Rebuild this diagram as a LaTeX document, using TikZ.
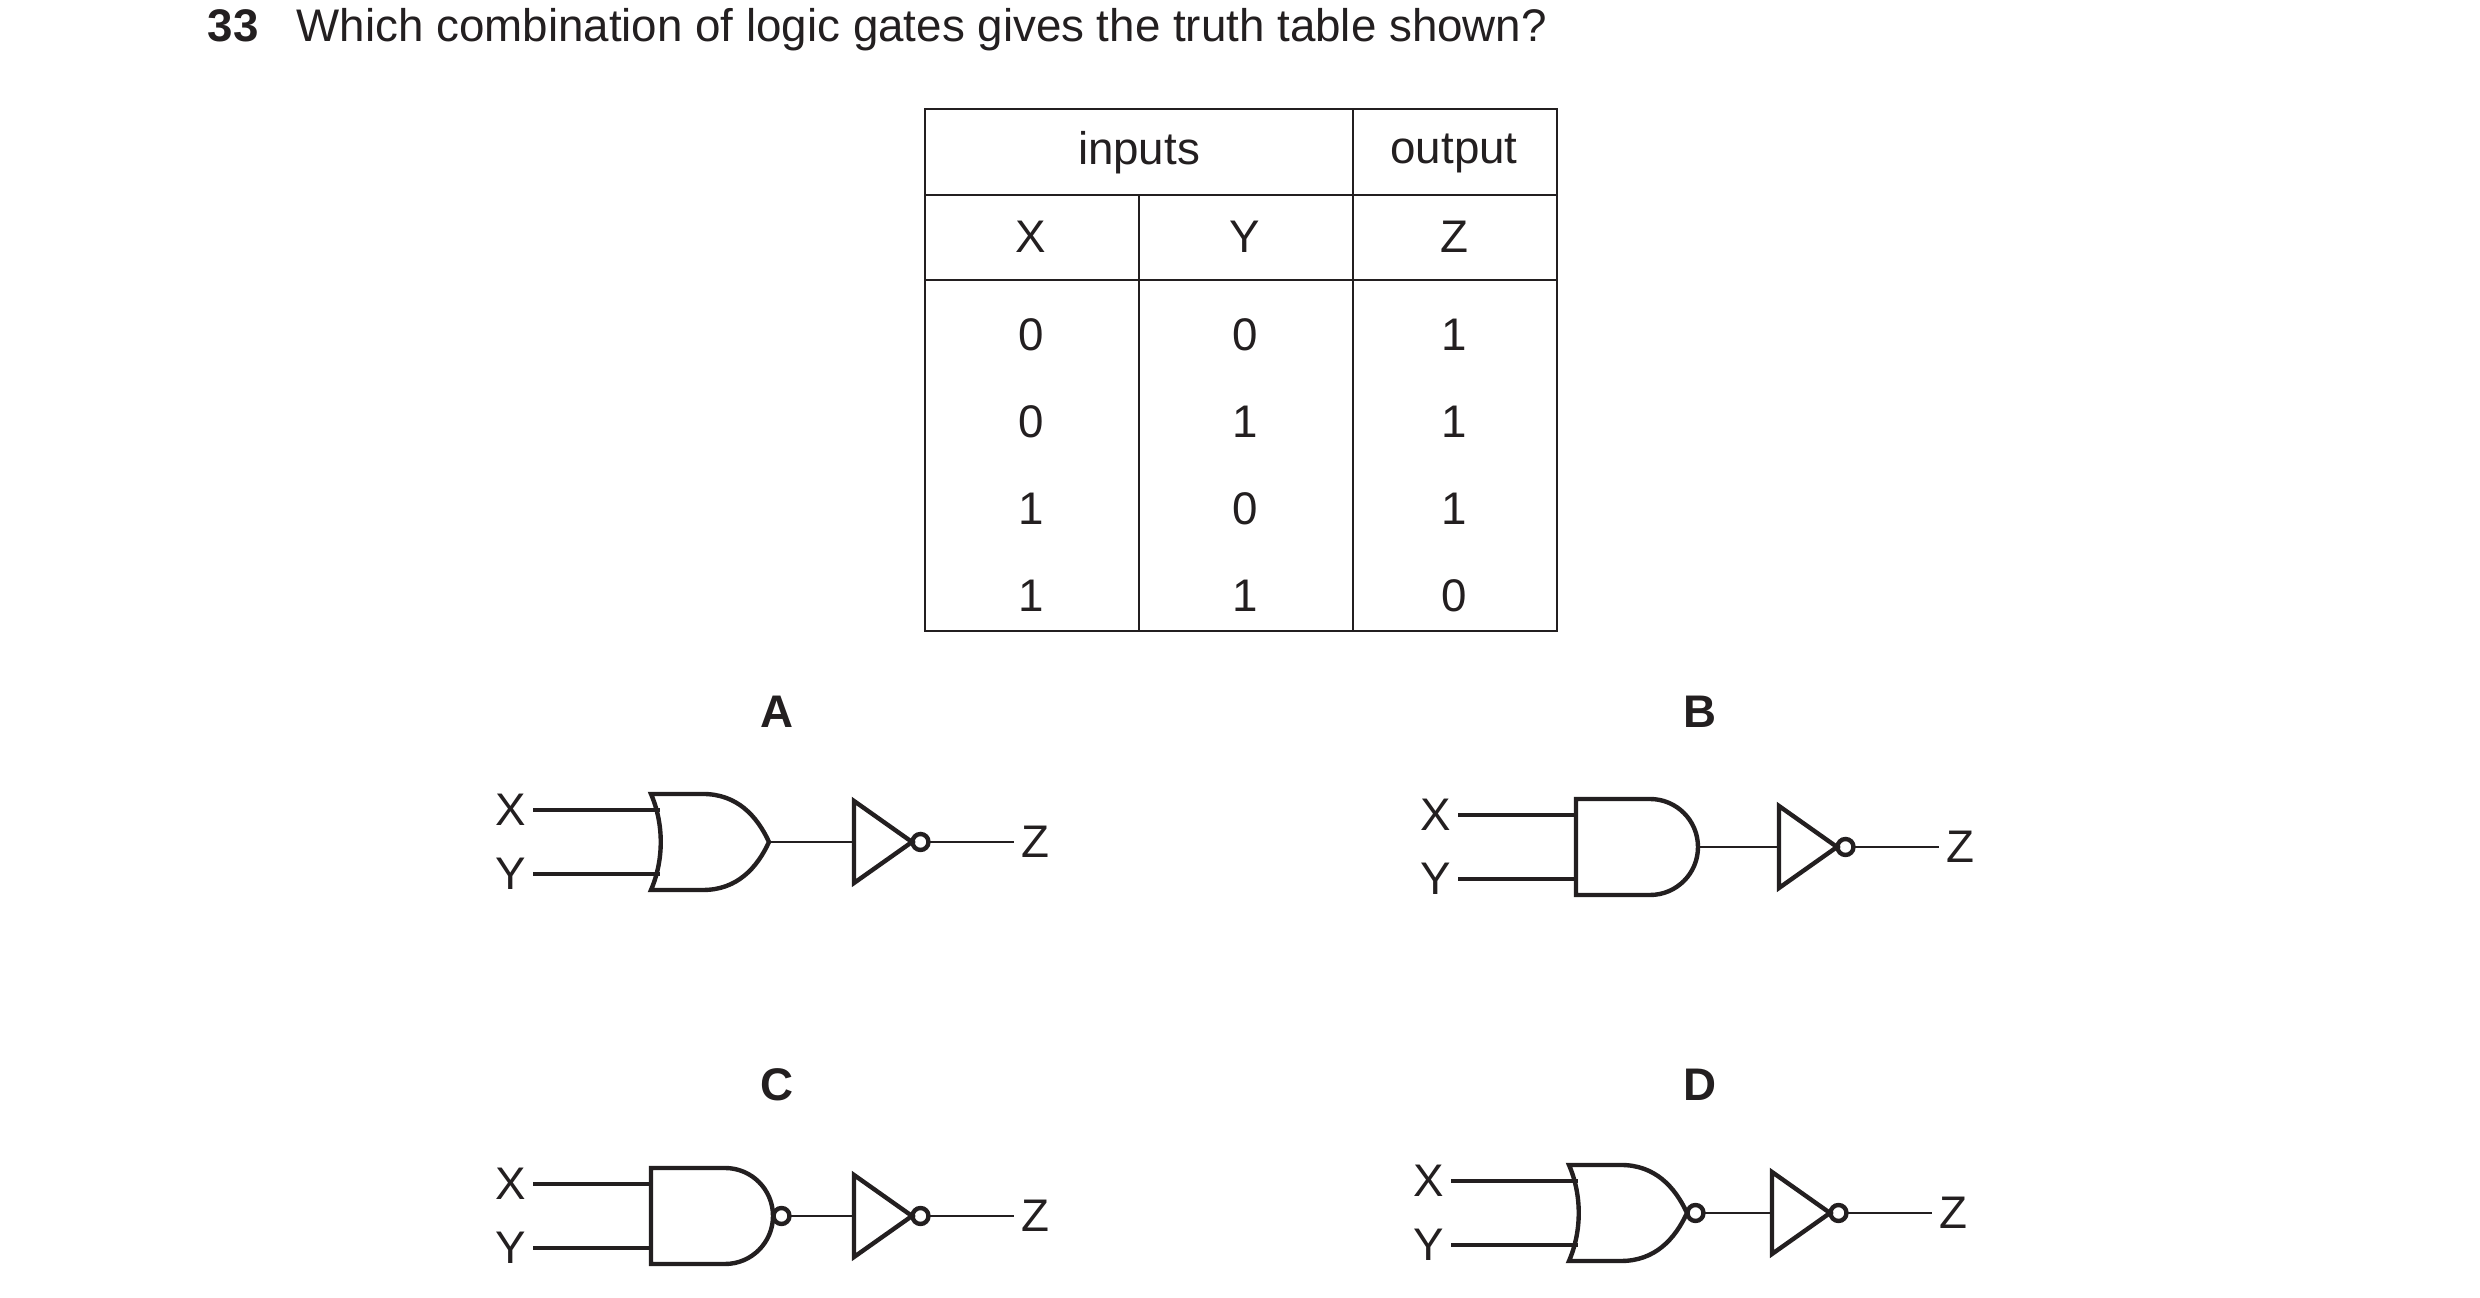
\documentclass[tikz,border=0pt]{standalone}
\usepackage{fontspec}
\setmainfont{Liberation Sans}
\begin{document}
\begin{tikzpicture}[x=0.01cm,y=-0.01cm,
  txt/.style={font=\fontsize{13}{15}\selectfont,text=ink,inner sep=0pt},
  lbl/.style={font=\fontsize{13}{15}\selectfont\bfseries,text=ink,inner sep=0pt},
  gl/.style={draw=ink,line width=1.25pt,line join=miter},
  wi/.style={draw=ink,line width=1.2pt},
  wo/.style={draw=ink,line width=0.8pt},
  tl/.style={draw=ink,line width=0.5pt}]
\definecolor{ink}{HTML}{231F20}
\useasboundingbox (0,0) rectangle (2480,1298);
% title
\node[lbl,anchor=base west] (num) at (207,42) {33};
\node[txt,anchor=base west] (q) at (296,42) {Which combination of logic gates gives the truth table shown?};
% table
\draw[tl] (925,109) rectangle (1557,631);
\draw[tl] (925,195) -- (1557,195);
\draw[tl] (925,280) -- (1557,280);
\draw[tl] (1353,109) -- (1353,631);
\draw[tl] (1139,195) -- (1139,631);
\node[txt] (hin) at (1139,153) {inputs};
\node[txt] (hout) at (1454,153) {output};
\node[txt] (hx) at (1031,237) {X};
\node[txt] (hy) at (1245,237) {Y};
\node[txt] (hz) at (1454,237) {Z};
\foreach \r/\a/\b/\c in {335/0/0/1,422/0/1/1,509/1/0/1,596/1/1/0}{
  \node[txt] at (1031,\r) {\a};
  \node[txt] at (1245,\r) {\b};
  \node[txt] at (1454,\r) {\c};
}
% labels
\node[lbl] (la) at (777,712) {A};
\node[lbl] (lb) at (1700,712) {B};
\node[lbl] (lc) at (777,1085) {C};
\node[lbl] (ld) at (1700,1085) {D};
% gate macro: #1 x of X label, #2 centre y, #3 type
\newcommand\mygate[3]{%
  \begin{scope}[shift={(#1,#2)}]
  \node[txt] at (0,-32) {X};
  \node[txt] at (0,32) {Y};
  \def\tp{#3}%
  \def\gor{or}\def\gnor{nor}\def\gand{and}\def\gnand{nand}%
  \ifx\tp\gor\def\isor{1}\else\ifx\tp\gnor\def\isor{1}\else\def\isor{0}\fi\fi
  \ifx\tp\gnor\def\bub{1}\else\ifx\tp\gnand\def\bub{1}\else\def\bub{0}\fi\fi
  \if1\isor
    \draw[wi] (22,-32) -- (149,-32); \draw[wi] (22,32) -- (149,32);
    \draw[gl] (140,-48) .. controls (153,-18) and (153,18) .. (140,48)
      -- (192,48) .. controls (226,48) and (246,26) .. (258,0)
      .. controls (246,-26) and (226,-48) .. (192,-48) -- cycle;
    \def\tip{258}
  \else
    \draw[wi] (22,-32) -- (140,-32); \draw[wi] (22,32) -- (140,32);
    \draw[gl] (140,-48) -- (140,48) -- (214,48) arc[start angle=90,end angle=-90,radius=48] -- cycle;
    \def\tip{262}
  \fi
  \if1\bub
    \draw[gl] (\tip+8.5,0) circle[radius=8];
    \draw[wo] (\tip+17,0) -- (343,0);
  \else
    \draw[wo] (\tip,0) -- (343,0);
  \fi
  \draw[gl] (343,-41) -- (343,41) -- (401,0) -- cycle;
  \draw[gl] (409.5,0) circle[radius=8];
  \draw[wo] (418,0) -- (503,0);
  \node[txt] at (524,0) {Z};
  \end{scope}}
\mygate{511}{842}{or}
\mygate{1436}{847}{and}
\mygate{511}{1216}{nand}
\mygate{1429}{1213}{nor}
\end{tikzpicture}
\end{document}
